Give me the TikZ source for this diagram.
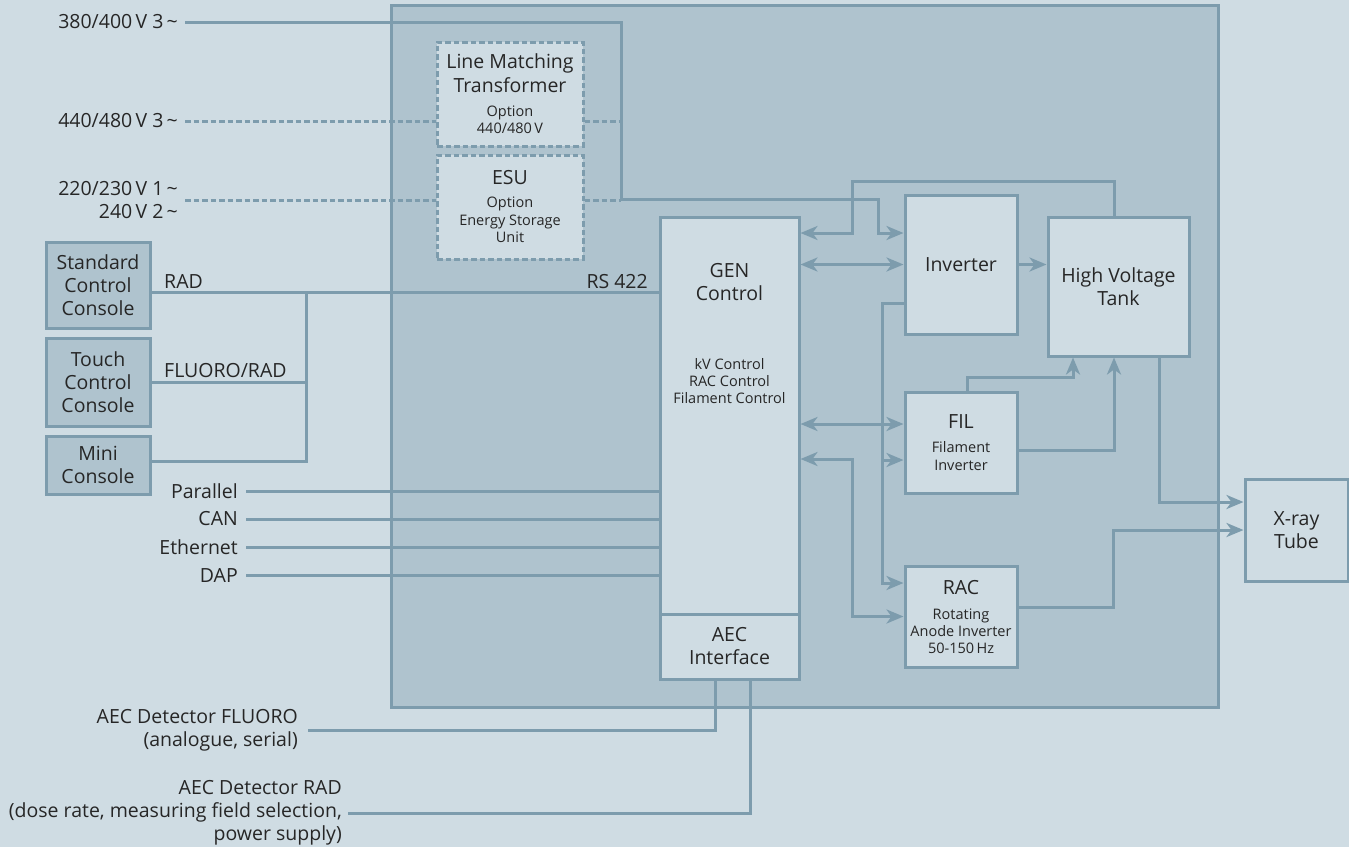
\documentclass[tikz,border=0pt]{standalone}
\usepackage{fontspec}
\setmainfont{Open Sans}
\usetikzlibrary{arrows.meta,positioning}
\definecolor{gbg}{RGB}{207,220,227}
\definecolor{gcab}{RGB}{175,195,206}
\definecolor{gline}{RGB}{125,156,173}
\definecolor{gtext}{RGB}{38,38,38}
\newcommand{\bigfont}{\fontsize{19.5}{23}\selectfont}
\newcommand{\smlfont}{\fontsize{14.5}{17}\selectfont}

\begin{document}
\begin{tikzpicture}[x=1pt,y=-1pt,
  box/.style={draw=gline,line width=3pt,fill=gbg,inner sep=0pt,align=center,text=gtext,font=\bigfont},
  optbox/.style={box,dash pattern=on 5.5pt off 3pt},
  console/.style={box,fill=gcab},
  lbl/.style={inner sep=0pt,text=gtext,font=\bigfont},
  wire/.style={draw=gline,line width=3pt},
  dwire/.style={wire,dash pattern=on 5.5pt off 3pt},
  arr/.style={wire,-{Stealth[length=17pt,width=14pt,inset=5pt]}},
  darr/.style={wire,{Stealth[length=17pt,width=14pt,inset=5pt]}-{Stealth[length=17pt,width=14pt,inset=5pt]}}]
  \useasboundingbox (0,0) rectangle (1349,847);
  \fill[gbg] (0,0) rectangle (1349,847);
  % Generator cabinet
  \node[box,fill=gcab,minimum width=827pt,minimum height=702pt] (cab) at (804.5,356) {};
  % Options
  \node[optbox,minimum width=146pt,minimum height=104pt] (lmt) at (510,94)
    {Line Matching\\[1pt]Transformer\\[1pt]\smlfont Option\\[-6pt]\smlfont 440/480\,V};
  \node[optbox,minimum width=146pt,minimum height=104pt] (esu) at (510,207)
    {ESU\\\smlfont Option\\[-5pt]\smlfont Energy Storage\\[-6pt]\smlfont Unit};
  % Generator parts
  \node[box,minimum width=139pt,minimum height=397pt] (gen) at (729.5,415.5) {};
  \node[box,minimum width=139pt,minimum height=65pt] (aec) at (729.5,646.5) {AEC\\Interface};
  \node[lbl,align=center] (gentitle) at (729.5,282) {GEN\\Control};
  \node[lbl,align=center,font=\smlfont] (genctl) at (729.5,381) {kV Control\\RAC Control\\Filament Control};
  \node[box,minimum width=112pt,minimum height=139pt] (inv) at (961,264.5) {Inverter};
  \node[box,minimum width=141pt,minimum height=139pt] (hvt) at (1118.5,286.5) {High Voltage\\Tank};
  \node[box,minimum width=112pt,minimum height=101pt] (fil) at (961,442.5)
    {FIL\\[1pt]\smlfont Filament\\[-5pt]\smlfont Inverter};
  \node[box,minimum width=112pt,minimum height=101pt] (rac) at (961,616.5)
    {RAC\\[2pt]\smlfont Rotating\\[-6pt]\smlfont Anode Inverter\\[-6pt]\smlfont 50-150\,Hz};
  \node[box,minimum width=103pt,minimum height=102pt] (tube) at (1296.5,530) {X-ray\\Tube};
  % Consoles
  \node[console,minimum width=104pt,minimum height=86pt] (std) at (98,285) {Standard\\Control\\Console};
  \node[console,minimum width=104pt,minimum height=88pt] (touch) at (98,382) {Touch\\Control\\Console};
  \node[console,minimum width=104pt,minimum height=58pt] (mini) at (98,465) {Mini\\Console};
  % Mains
  \node[lbl,anchor=east] (p380) at (178,22) {380/400\,V 3\,\textasciitilde};
  \node[lbl,anchor=east] (p440) at (178,121) {440/480\,V 3\,\textasciitilde};
  \node[lbl,anchor=east,align=right] (p220) at (178,200) {220/230\,V 1\,\textasciitilde\\240\,V 2\,\textasciitilde};
  \coordinate (feed) at (621,199);
  \coordinate (feedin) at (878,199);
  \coordinate (invin) at ([yshift=31.5pt]inv.west);
  \draw[arr] ([xshift=7pt]p380.east) -| (feed) -- (feedin) |- (invin);
  \draw[dwire] ([xshift=7pt]p440.east) -- (lmt.west |- p440.east);
  \draw[dwire] (lmt.east |- p440.east) -- (feed |- p440.east);
  \draw[dwire] ([xshift=7pt]p220.east) -- (esu.west |- p220.east);
  \draw[dwire] (esu.east |- p220.east) -- (feed |- p220.east);
  % Control links
  \coordinate (fbtop) at (852,181);
  \draw[arr] ([xshift=-4.5pt]hvt.north) |- (fbtop) |- (gen.east |- invin);
  \draw[darr] (gen.east |- inv.west) -- (inv.west);
  \draw[arr] (inv.east) -- (inv.east -| hvt.west);
  \coordinate (filin1) at ([yshift=18.5pt]fil.west);
  \coordinate (filin2) at ([yshift=-17.5pt]fil.west);
  \draw[darr] (gen.east |- filin1) -- (filin1);
  \coordinate (racbus) at (852,459);
  \draw[darr] (gen.east |- racbus) -- (racbus) |- (rac.west);
  \coordinate (invout) at (882,303);
  \draw[arr] (inv.west |- invout) -- (invout) |- ([yshift=33.5pt]rac.west);
  \draw[arr] (invout |- filin2) -- (filin2);
  % Tank and tube
  \coordinate (filup) at (1073,377);
  \draw[arr] ([xshift=6pt]fil.north) |- (filup) -- (filup |- hvt.south);
  \draw[arr] ([yshift=-7.5pt]fil.east) -| ([xshift=-4.5pt]hvt.south);
  \coordinate (hvout) at (1159,502);
  \draw[arr] (hvt.south -| hvout) |- ([yshift=28pt]tube.west);
  \coordinate (racup) at (1113,530);
  \draw[arr] ([yshift=9.5pt]rac.east) -| (racup) -- (tube.west);
  % Consoles to GEN
  \coordinate (cjoin) at (306,292);
  \draw[wire] ([yshift=-7pt]std.east) -- (gen.west |- cjoin);
  \draw[wire] (touch.east) -| (cjoin);
  \draw[wire] ([yshift=4pt]mini.east) -| (cjoin);
  \node[lbl,anchor=base west] (radlbl) at (164,288.5) {RAD};
  \node[lbl,anchor=base west] (flulbl) at (164,377.5) {FLUORO/RAD};
  \node[lbl,anchor=base east] (rslbl) at (648,288.5) {RS 422};
  % Interfaces
  \foreach \n/\t/\y in {par/Parallel/491,can/CAN/519,eth/Ethernet/547,dap/DAP/575}{
    \node[lbl,anchor=east] (\n) at (238,\y) {\t};
    \draw[wire] ([xshift=8pt]\n.east) -- (gen.west |- \n.east);
  }
  % AEC detectors
  \node[lbl,anchor=east,align=right] (fluoro) at (298,730) {AEC Detector FLUORO\\(analogue, serial)};
  \node[lbl,anchor=east,align=right] (raddet) at (342,813) {AEC Detector RAD\\(dose rate, measuring field selection,\\power supply)};
  \draw[wire] ([xshift=10pt]fluoro.east) -| ([xshift=-14.5pt]aec.south);
  \draw[wire] ([xshift=6pt]raddet.east) -| ([xshift=20.5pt]aec.south);
\end{tikzpicture}
\end{document}
